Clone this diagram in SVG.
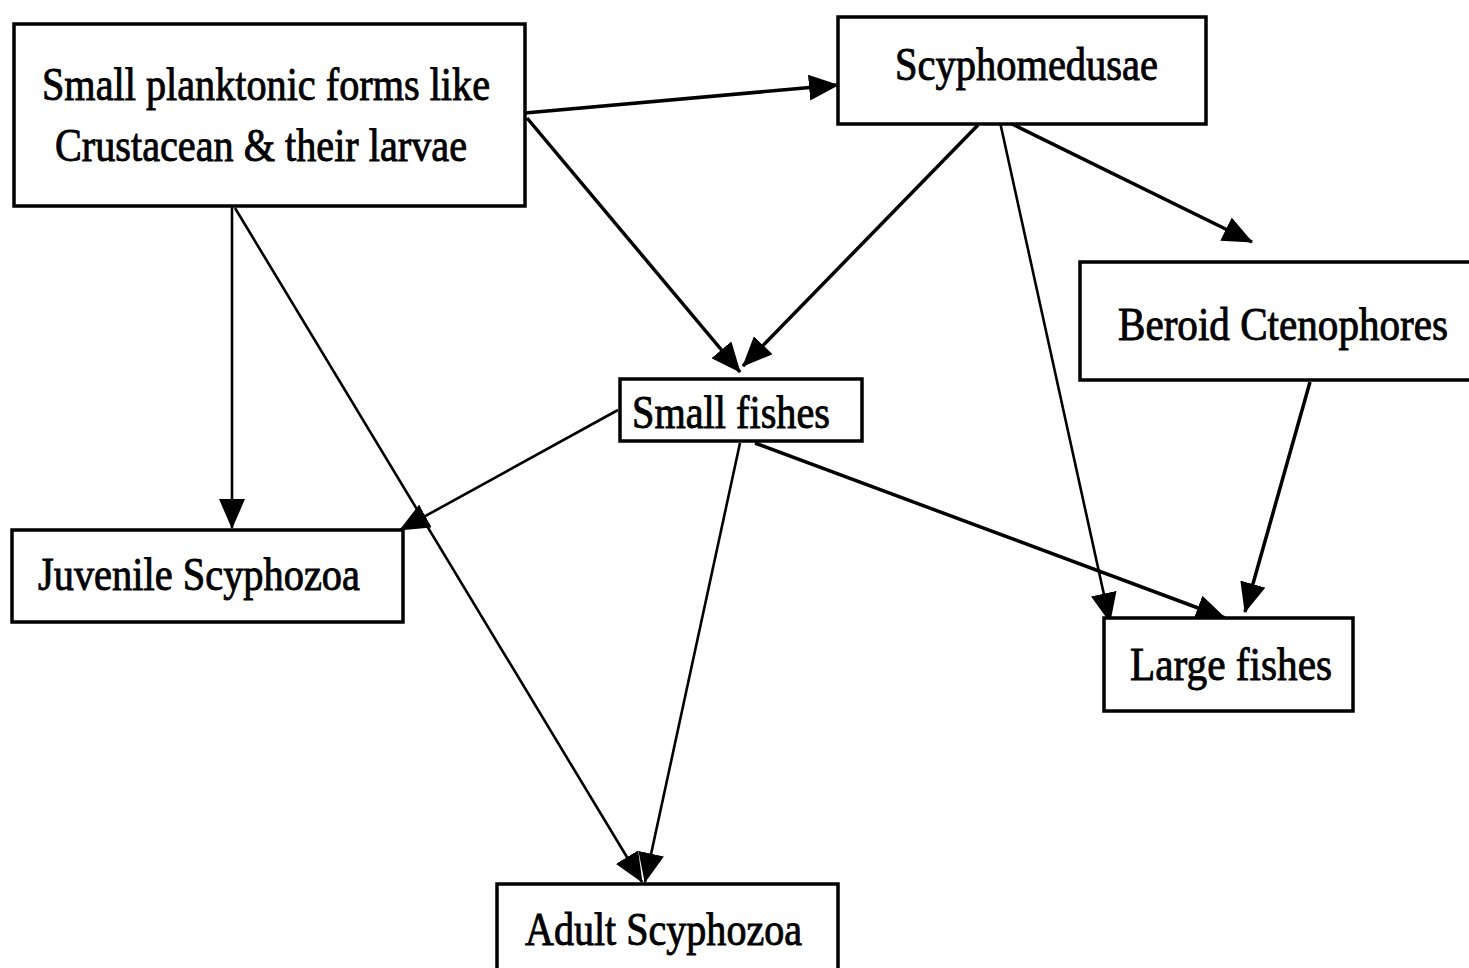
<svg xmlns="http://www.w3.org/2000/svg" width="1469" height="968" viewBox="0 0 1469 968">
<defs>
<style>
.box{fill:#fff;stroke:#000;stroke-width:3.5}
.lbl{font-family:"Liberation Serif","Times New Roman",serif;font-size:46px;fill:#000;stroke:#000;stroke-width:0.9}
.c{stroke:#000;stroke-width:3.5;fill:none;marker-end:url(#ah)}
.t{stroke-width:2.6}
</style>
<marker id="ah" markerUnits="userSpaceOnUse" markerWidth="30" markerHeight="26" viewBox="0 0 30 26" refX="29" refY="13" orient="auto">
<path d="M0,0 L30,13 L0,26 Z" fill="#000"/>
</marker>
</defs>
<rect width="1469" height="968" fill="#fff"/>
<g id="connectors">
<line class="c" x1="525" y1="113" x2="838" y2="85"/>
<line class="c" x1="527" y1="118" x2="740" y2="372"/>
<line class="c" x1="978" y1="125" x2="743" y2="366"/>
<line class="c t" x1="232" y1="206" x2="232" y2="528"/>
<line class="c t" x1="235" y1="208" x2="642" y2="882"/>
<line class="c t" x1="740" y1="443" x2="645" y2="882"/>
<line class="c t" x1="618" y1="410" x2="400" y2="530"/>
<line class="c t" x1="1000" y1="122" x2="1110" y2="622"/>
<line class="c" x1="1008" y1="122" x2="1252" y2="242"/>
<line class="c" x1="755" y1="443" x2="1225" y2="618"/>
<line class="c" x1="1310" y1="382" x2="1245" y2="612"/>
</g>
<g id="n-plankton">
<rect class="box" x="14" y="24" width="511" height="182"/>
<text class="lbl" x="42" y="100" textLength="448" lengthAdjust="spacingAndGlyphs">Small planktonic forms like</text>
<text class="lbl" x="55" y="161" textLength="412" lengthAdjust="spacingAndGlyphs">Crustacean &amp; their larvae</text>
</g>
<g id="n-scyphomedusae">
<rect class="box" x="838" y="17" width="368" height="107"/>
<text class="lbl" x="895" y="80" textLength="263" lengthAdjust="spacingAndGlyphs">Scyphomedusae</text>
</g>
<g id="n-beroid">
<path class="box" d="M1469,262 H1080 V380 H1469"/>
<text class="lbl" x="1118" y="340" textLength="330" lengthAdjust="spacingAndGlyphs">Beroid Ctenophores</text>
</g>
<g id="n-smallfishes">
<rect class="box" x="620" y="379" width="242" height="62"/>
<text class="lbl" x="632" y="428" textLength="198" lengthAdjust="spacingAndGlyphs">Small fishes</text>
</g>
<g id="n-juvenile">
<rect class="box" x="12" y="530" width="391" height="92"/>
<text class="lbl" x="38" y="590" textLength="322" lengthAdjust="spacingAndGlyphs">Juvenile Scyphozoa</text>
</g>
<g id="n-largefishes">
<rect class="box" x="1104" y="618" width="249" height="93"/>
<text class="lbl" x="1130" y="680" textLength="202" lengthAdjust="spacingAndGlyphs">Large fishes</text>
</g>
<g id="n-adult">
<rect class="box" x="497" y="884" width="341" height="100"/>
<text class="lbl" x="525" y="945" textLength="277" lengthAdjust="spacingAndGlyphs">Adult Scyphozoa</text>
</g>
</svg>
